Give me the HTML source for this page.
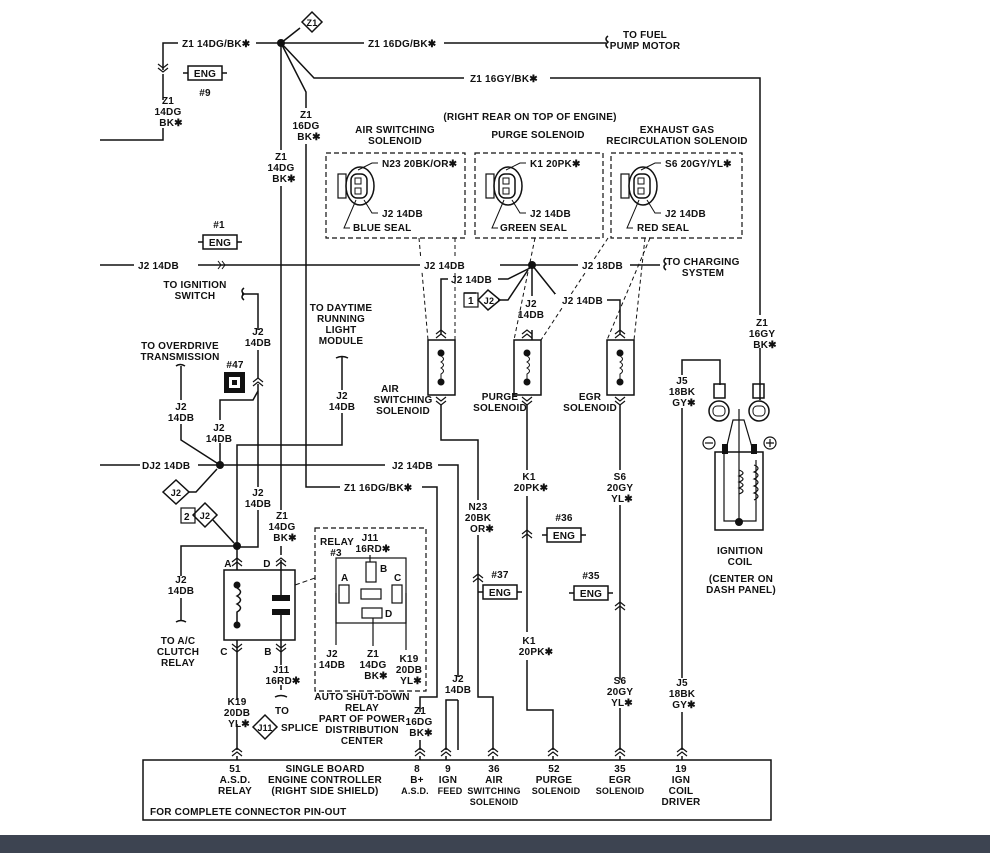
<!DOCTYPE html>
<html><head><meta charset="utf-8"><style>
html,body{margin:0;padding:0;background:#fff}
svg{display:block}
text{font-family:"Liberation Sans",sans-serif;font-size:10px;fill:#111;letter-spacing:0.2px;font-weight:bold}
.m{text-anchor:middle}
.l{stroke:#111;stroke-width:1.5;fill:none}
.d{stroke:#111;stroke-width:1.2;fill:none;stroke-dasharray:5 3}
</style></head><body>
<svg width="990" height="853" viewBox="0 0 990 853" xmlns="http://www.w3.org/2000/svg">
<defs>
<g id="up"><path d="M-5,0 L0,-4 L5,0 M-5,4 L0,0 L5,4" class="l" style="stroke-width:1.2"/></g>
<g id="dn"><path d="M-5,-4 L0,0 L5,-4 M-5,0 L0,4 L5,0" class="l" style="stroke-width:1.2"/></g>
<g id="conn">
<rect x="-22" y="-12" width="8" height="24" class="l" style="stroke-width:1.2"/>
<ellipse cx="0" cy="0" rx="14" ry="19" class="l"/>
<rect x="-9" y="-12" width="16" height="24" rx="6" class="l"/>
<rect x="-5" y="-8" width="6" height="6" class="l" style="stroke-width:1"/>
<rect x="-5" y="2" width="6" height="6" class="l" style="stroke-width:1"/>
</g>
<g id="sol"><rect x="-13" y="0" width="27" height="55" class="l"/><circle cx="0" cy="13" r="3.5" fill="#111"/><circle cx="0" cy="42" r="3.5" fill="#111"/><path d="M0,16 q5,3 0,6 q5,3 0,6 q5,3 0,6 L0,40" class="l" style="stroke-width:1"/></g>
<g id="eng"><path d="M-22,0 h5 M17,0 h5" class="l"/><rect x="-17" y="-7" width="34" height="14" class="l"/><text x="0" y="4" class="m">ENG</text></g>
</defs>

<!-- top Z1 lines -->
<path class="l" d="M163,70 V43 H600 M608,36 q-4,3 0,6 q-4,3 0,6 M600,43 H606"/>
<text x="645" y="38" class="m">TO FUEL</text>
<text x="645" y="49" class="m">PUMP MOTOR</text>
<rect x="178" y="36" width="78" height="13" fill="#fff"/><text x="182" y="47">Z1 14DG/BK✱</text>
<rect x="364" y="36" width="80" height="13" fill="#fff"/><text x="368" y="47">Z1 16DG/BK✱</text>
<circle cx="281" cy="43" r="4" fill="#111"/>
<path class="l" d="M281,43 L300,28"/><path d="M302,22 L312,12 L322,22 L312,32 Z" class="l" fill="#fff"/><text x="312" y="26" class="m" style="font-size:9px">Z1</text>
<use href="#dn" x="163" y="68"/>
<path class="l" d="M163,74 V100 M163,128 V140 H100"/>
<text x="168" y="104" class="m">Z1</text><text x="168" y="115" class="m">14DG</text><text x="171" y="126" class="m">BK✱</text>
<use href="#eng" x="205" y="73"/><text x="205" y="96" class="m">#9</text>

<path class="l" d="M281,43 L314,78 H760 V315 M760,348 V400"/>
<rect x="464" y="72" width="86" height="13" fill="#fff"/><text x="470" y="82">Z1 16GY/BK✱</text>
<text x="762" y="326" class="m">Z1</text><text x="762" y="337" class="m">16GY</text><text x="765" y="348" class="m">BK✱</text>

<path class="l" d="M281,43 L306,92 V487 H437 V697 H420 V712"/>
<rect x="340" y="481" width="82" height="13" fill="#fff"/><text x="344" y="491">Z1 16DG/BK✱</text>
<rect x="296" y="108" width="22" height="36" fill="#fff"/>
<text x="306" y="118" class="m">Z1</text><text x="306" y="129" class="m">16DG</text><text x="309" y="140" class="m">BK✱</text>

<path class="l" d="M281,43 V555"/>
<rect x="268" y="150" width="26" height="36" fill="#fff"/>
<text x="281" y="160" class="m">Z1</text><text x="281" y="171" class="m">14DG</text><text x="284" y="182" class="m">BK✱</text>
<rect x="268" y="510" width="26" height="36" fill="#fff"/>
<text x="282" y="519" class="m">Z1</text><text x="282" y="530" class="m">14DG</text><text x="285" y="541" class="m">BK✱</text>

<!-- header texts -->
<text x="530" y="120" class="m">(RIGHT REAR ON TOP OF ENGINE)</text>
<text x="395" y="133" class="m">AIR SWITCHING</text><text x="395" y="144" class="m">SOLENOID</text>
<text x="538" y="138" class="m">PURGE SOLENOID</text>
<text x="677" y="133" class="m">EXHAUST GAS</text><text x="677" y="144" class="m">RECIRCULATION SOLENOID</text>

<rect x="326" y="153" width="139" height="85" class="d"/>
<rect x="475" y="153" width="128" height="85" class="d"/>
<rect x="611" y="153" width="131" height="85" class="d"/>
<use href="#conn" x="360" y="186"/><use href="#conn" x="508" y="186"/><use href="#conn" x="643" y="186"/>
<path class="l" style="stroke-width:1" d="M358,170 L372,163 H378 M364,200 L372,213 H378 M356,200 L344,228 H350"/>
<text x="382" y="167">N23 20BK/OR✱</text><text x="382" y="217">J2 14DB</text><text x="353" y="231">BLUE SEAL</text>
<path class="l" style="stroke-width:1" d="M506,170 L520,163 H526 M512,200 L520,213 H526 M504,200 L492,228 H498"/>
<text x="530" y="167">K1 20PK✱</text><text x="530" y="217">J2 14DB</text><text x="500" y="231">GREEN SEAL</text>
<path class="l" style="stroke-width:1" d="M641,170 L655,163 H661 M647,200 L655,213 H661 M639,200 L627,228 H633"/>
<text x="665" y="167">S6 20GY/YL✱</text><text x="665" y="217">J2 14DB</text><text x="637" y="231">RED SEAL</text>

<!-- dashed leaders -->
<path class="d" d="M419,238 L428,340 M455,238 L455,340 M535,238 L514,340 M608,238 L541,340 M650,238 L607,340 M645,238 L634,340" style="stroke-dasharray:4 3;stroke-width:1"/>

<!-- J2 main line -->
<use href="#eng" x="220" y="242"/><text x="219" y="228" class="m">#1</text>
<path class="l" d="M100,265 H530 H660 M666,258 q-4,3 0,6 q-4,3 0,6"/>
<rect x="134" y="259" width="64" height="12" fill="#fff"/><text x="138" y="269">J2 14DB</text>
<path class="l" style="stroke-width:1" d="M218,261 l3,4 l-3,4 M222,261 l3,4 l-3,4"/>
<rect x="420" y="259" width="80" height="12" fill="#fff"/><text x="424" y="269">J2 14DB</text>
<rect x="578" y="259" width="52" height="12" fill="#fff"/><text x="582" y="269">J2 18DB</text>
<text x="703" y="265" class="m">TO CHARGING</text><text x="703" y="276" class="m">SYSTEM</text>
<circle cx="532" cy="265" r="4" fill="#111"/>
<path class="l" d="M441,335 V279 H448 M498,279 H508 L530,268"/>
<text x="451" y="283">J2 14DB</text>
<path class="l" d="M464,293 H476 M498,300 H508 L528,270 M532,265 V296 M532,330 V340 M532,265 L560,300 H620 V335"/>
<rect x="464" y="293" width="14" height="14" class="l" style="stroke-width:1.2"/><text x="468" y="304">1</text>
<path d="M478,300 L488,290 L500,300 L488,310 Z" class="l" fill="#fff"/><text x="489" y="304" class="m" style="font-size:9px">J2</text>
<rect x="555" y="294" width="52" height="12" fill="#fff"/><text x="562" y="304">J2 14DB</text>
<text x="531" y="307" class="m">J2</text><text x="531" y="318" class="m">14DB</text>

<!-- solenoids -->
<use href="#up" x="441" y="334"/><use href="#sol" x="441" y="340"/><use href="#dn" x="441" y="401"/>
<use href="#up" x="527" y="334"/><use href="#sol" x="527" y="340"/><use href="#dn" x="527" y="401"/>
<use href="#up" x="620" y="334"/><use href="#sol" x="620" y="340"/><use href="#dn" x="620" y="401"/>
<text x="390" y="392" class="m">AIR</text><text x="403" y="403" class="m">SWITCHING</text><text x="403" y="414" class="m">SOLENOID</text>
<text x="500" y="400" class="m">PURGE</text><text x="500" y="411" class="m">SOLENOID</text>
<text x="590" y="400" class="m">EGR</text><text x="590" y="411" class="m">SOLENOID</text>

<path class="l" d="M441,405 V440 H478 V500 M478,535 V697 H493 V750"/>
<text x="478" y="510" class="m">N23</text><text x="478" y="521" class="m">20BK</text><text x="482" y="532" class="m">OR✱</text>
<use href="#up" x="478" y="578"/>
<path class="l" d="M527,405 V470 M527,496 V632 M527,660 V710 H553 V750"/>
<text x="529" y="480" class="m">K1</text><text x="531" y="491" class="m">20PK✱</text>
<use href="#up" x="527" y="534"/>
<text x="529" y="644" class="m">K1</text><text x="536" y="655" class="m">20PK✱</text>
<use href="#eng" x="564" y="535"/><text x="564" y="521" class="m">#36</text>
<use href="#eng" x="500" y="592"/><text x="500" y="578" class="m">#37</text>
<use href="#eng" x="591" y="593"/><text x="591" y="579" class="m">#35</text>
<path class="l" d="M620,405 V470 M620,505 V680 M620,708 V750"/>
<text x="620" y="480" class="m">S6</text><text x="620" y="491" class="m">20GY</text><text x="622" y="502" class="m">YL✱</text>
<use href="#up" x="620" y="606"/>
<text x="620" y="684" class="m">S6</text><text x="620" y="695" class="m">20GY</text><text x="622" y="706" class="m">YL✱</text>

<!-- ignition coil -->
<path class="l" d="M682,375 V360 H720 V385 M682,408 V678 M682,712 V750"/>
<text x="682" y="384" class="m">J5</text><text x="682" y="395" class="m">18BK</text><text x="684" y="406" class="m">GY✱</text>
<text x="682" y="686" class="m">J5</text><text x="682" y="697" class="m">18BK</text><text x="684" y="708" class="m">GY✱</text>
<rect x="714" y="384" width="11" height="14" class="l"/><circle cx="719" cy="411" r="10" class="l"/><rect x="713" y="406" width="12" height="10" rx="4" class="l" style="stroke-width:1"/>
<rect x="753" y="384" width="11" height="14" class="l"/><circle cx="759" cy="411" r="10" class="l"/><rect x="753" y="406" width="12" height="10" rx="4" class="l" style="stroke-width:1"/>
<circle cx="709" cy="443" r="6" class="l" style="stroke-width:1.2"/><path d="M705,443 h8" class="l" style="stroke-width:1.2"/>
<circle cx="770" cy="443" r="6" class="l" style="stroke-width:1.2"/><path d="M766,443 h8 M770,439 v8" class="l" style="stroke-width:1.2"/>
<rect x="715" y="452" width="48" height="78" class="l"/>
<rect x="722" y="444" width="6" height="10" fill="#111"/><rect x="751" y="444" width="6" height="10" fill="#111"/>
<path class="l" style="stroke-width:1.2" d="M739,409 V522 M725,454 L733,420 H744 L754,454 M724,454 V521 H756 V460 M739,470 q8,3 0,6 q8,3 0,6 q8,3 0,6 q8,3 0,6 M754,465 q8,3 0,7 q8,3 0,7 q8,3 0,7 q8,3 0,7 q8,3 0,7"/>
<circle cx="739" cy="522" r="4" fill="#111"/>
<text x="740" y="554" class="m">IGNITION</text><text x="740" y="565" class="m">COIL</text>
<text x="741" y="582" class="m">(CENTER ON</text><text x="741" y="593" class="m">DASH PANEL)</text>

<!-- left area -->
<text x="195" y="288" class="m">TO IGNITION</text><text x="195" y="299" class="m">SWITCH</text>
<path class="l" d="M244,288 q-4,3 0,6 q-4,3 0,6 M242,294 H258 V330 M258,350 V378 M258,384 V487 M258,510 V547 H237"/>
<text x="258" y="335" class="m">J2</text><text x="258" y="346" class="m">14DB</text>
<use href="#up" x="258" y="382"/>
<rect x="224" y="372" width="21" height="21" fill="#111"/><rect x="229" y="377" width="11" height="11" fill="#fff"/><rect x="232" y="380" width="5" height="5" fill="#111"/>
<text x="235" y="368" class="m">#47</text>
<text x="258" y="496" class="m">J2</text><text x="258" y="507" class="m">14DB</text>
<text x="180" y="349" class="m">TO OVERDRIVE</text><text x="180" y="360" class="m">TRANSMISSION</text>
<path class="l" d="M176,366 q4,-3 9,0 M181,366 V400 M181,424 V440 L220,465 M220,465 V443 M220,420 V400 H253 L258,391"/>
<text x="181" y="410" class="m">J2</text><text x="181" y="421" class="m">14DB</text>
<text x="219" y="431" class="m">J2</text><text x="219" y="442" class="m">14DB</text>
<text x="341" y="311" class="m">TO DAYTIME</text><text x="341" y="322" class="m">RUNNING</text><text x="341" y="333" class="m">LIGHT</text><text x="341" y="344" class="m">MODULE</text>
<path class="l" d="M336,358 q6,-3 12,0 M342,357 V390 M342,413 V445 H237 V546"/>
<text x="342" y="399" class="m">J2</text><text x="342" y="410" class="m">14DB</text>
<path class="l" d="M100,465 H140 M198,465 H385 M438,465 H458 V677 M458,700 V750"/>
<text x="142" y="469">DJ2 14DB</text>
<text x="392" y="469">J2 14DB</text>
<circle cx="220" cy="465" r="4" fill="#111"/>
<text x="458" y="682" class="m">J2</text><text x="458" y="693" class="m">14DB</text>
<path d="M163,492 L176,480 L189,492 L176,504 Z" class="l" fill="#fff"/><text x="176" y="496" class="m" style="font-size:9px">J2</text>
<path class="l" d="M189,492 H196 L217,469"/>
<rect x="181" y="508" width="14" height="15" class="l" style="stroke-width:1.2"/><text x="184" y="520">2</text>
<path d="M193,515 L205,503 L217,515 L205,527 Z" class="l" fill="#fff"/><text x="205" y="519" class="m" style="font-size:9px">J2</text>
<path class="l" d="M213,520 L234,543"/>
<circle cx="237" cy="546" r="4" fill="#111"/>
<path class="l" d="M237,546 H181 V576 M181,598 V620 M176,622 q5,-3 10,0"/>
<text x="181" y="583" class="m">J2</text><text x="181" y="594" class="m">14DB</text>
<text x="178" y="644" class="m">TO A/C</text><text x="178" y="655" class="m">CLUTCH</text><text x="178" y="666" class="m">RELAY</text>

<!-- relay -->
<path class="l" d="M237,546 V570 M281,560 V570"/>
<use href="#up" x="237" y="562"/><use href="#up" x="281" y="562"/>
<text x="228" y="567" class="m">A</text><text x="267" y="567" class="m">D</text>
<rect x="224" y="570" width="71" height="70" class="l"/>
<circle cx="237" cy="585" r="3.5" fill="#111"/><circle cx="237" cy="625" r="3.5" fill="#111"/>
<path class="l" d="M237,588 q7,4 0,8 q7,4 0,8 q7,4 0,8 V622"/>
<rect x="272" y="595" width="18" height="6" fill="#111"/><rect x="272" y="609" width="18" height="6" fill="#111"/>
<path class="l" d="M281,570 V595 M281,615 V640"/>
<path class="d" d="M295,585 L315,578" style="stroke-width:1"/>
<path class="l" d="M237,640 V700 M237,724 V750 M281,640 V665 M281,685 V690"/>
<use href="#dn" x="237" y="648"/><use href="#dn" x="281" y="648"/>
<text x="224" y="655" class="m">C</text><text x="268" y="655" class="m">B</text>
<text x="281" y="673" class="m">J11</text><text x="283" y="684" class="m">16RD✱</text>
<path class="l" d="M275,697 q6,-3 12,0"/>
<text x="282" y="714" class="m">TO</text>
<path d="M253,727 L265,715 L277,727 L265,739 Z" class="l" fill="#fff"/><text x="265" y="731" class="m" style="font-size:9px">J11</text>
<text x="281" y="731">SPLICE</text>
<text x="237" y="705" class="m">K19</text><text x="237" y="716" class="m">20DB</text><text x="239" y="727" class="m">YL✱</text>
<rect x="315" y="528" width="111" height="163" class="d"/>
<text x="320" y="545">RELAY</text><text x="336" y="556" class="m">#3</text>
<text x="370" y="541" class="m">J11</text><text x="373" y="552" class="m">16RD✱</text>
<path class="l" style="stroke-width:1.2" d="M370,555 V562"/>
<rect x="336" y="558" width="70" height="65" class="l" style="stroke-width:1.2"/>
<rect x="366" y="562" width="10" height="20" class="l" style="stroke-width:1.2"/><text x="380" y="572">B</text>
<rect x="339" y="585" width="10" height="18" class="l" style="stroke-width:1.2"/><text x="341" y="581">A</text>
<rect x="392" y="585" width="10" height="18" class="l" style="stroke-width:1.2"/><text x="394" y="581">C</text>
<rect x="361" y="589" width="20" height="10" class="l" style="stroke-width:1.2"/>
<rect x="362" y="608" width="20" height="10" class="l" style="stroke-width:1.2"/><text x="385" y="617">D</text>
<path class="l" style="stroke-width:1.2" d="M336,593 V645 M406,593 V650 M373,618 V646"/>
<text x="332" y="657" class="m">J2</text><text x="332" y="668" class="m">14DB</text>
<text x="373" y="657" class="m">Z1</text><text x="373" y="668" class="m">14DG</text><text x="376" y="679" class="m">BK✱</text>
<text x="409" y="662" class="m">K19</text><text x="409" y="673" class="m">20DB</text><text x="411" y="684" class="m">YL✱</text>
<text x="362" y="700" class="m">AUTO SHUT-DOWN</text><text x="362" y="711" class="m">RELAY</text><text x="362" y="722" class="m">PART OF POWER</text><text x="362" y="733" class="m">DISTRIBUTION</text><text x="362" y="744" class="m">CENTER</text>
<text x="420" y="714" class="m">Z1</text><text x="419" y="725" class="m">16DG</text><text x="421" y="736" class="m">BK✱</text>
<path class="l" d="M420,740 V750"/>

<!-- controller -->
<use href="#up" x="237" y="752"/><use href="#up" x="420" y="752"/><use href="#up" x="446" y="752"/><use href="#up" x="493" y="752"/><use href="#up" x="553" y="752"/><use href="#up" x="620" y="752"/><use href="#up" x="682" y="752"/>
<path class="l" d="M446,750 V700 H458"/>
<path class="l" d="M237,756 V760 M420,756 V760 M446,756 V760 M493,756 V760 M553,756 V760 M620,756 V760 M682,756 V760"/>
<rect x="143" y="760" width="628" height="60" class="l"/>
<text x="235" y="772" class="m">51</text><text x="235" y="783" class="m">A.S.D.</text><text x="235" y="794" class="m">RELAY</text>
<text x="325" y="772" class="m">SINGLE BOARD</text><text x="325" y="783" class="m">ENGINE CONTROLLER</text><text x="325" y="794" class="m">(RIGHT SIDE SHIELD)</text>
<text x="150" y="815">FOR COMPLETE CONNECTOR PIN-OUT</text>
<text x="417" y="772" class="m">8</text><text x="417" y="783" class="m">B+</text><text x="415" y="794" class="m" style="font-size:9px">A.S.D.</text>
<text x="448" y="772" class="m">9</text><text x="448" y="783" class="m">IGN</text><text x="450" y="794" class="m" style="font-size:9px">FEED</text>
<text x="494" y="772" class="m">36</text><text x="494" y="783" class="m">AIR</text><text x="494" y="794" class="m" style="font-size:9px">SWITCHING</text><text x="494" y="805" class="m" style="font-size:9px">SOLENOID</text>
<text x="554" y="772" class="m">52</text><text x="554" y="783" class="m">PURGE</text><text x="556" y="794" class="m" style="font-size:9px">SOLENOID</text>
<text x="620" y="772" class="m">35</text><text x="620" y="783" class="m">EGR</text><text x="620" y="794" class="m" style="font-size:9px">SOLENOID</text>
<text x="681" y="772" class="m">19</text><text x="681" y="783" class="m">IGN</text><text x="681" y="794" class="m">COIL</text><text x="681" y="805" class="m">DRIVER</text>

<rect x="0" y="835" width="990" height="18" fill="#3d4451"/>
</svg>
</body></html>
